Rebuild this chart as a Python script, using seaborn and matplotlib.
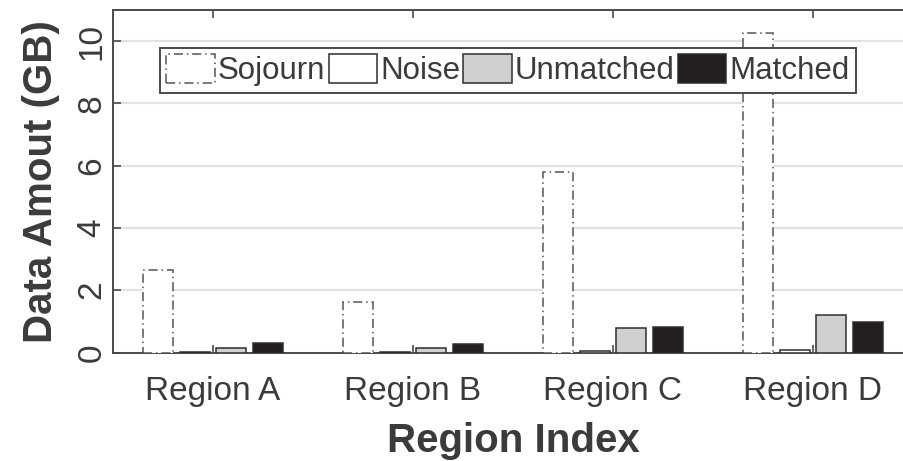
import matplotlib
matplotlib.use("Agg")
import matplotlib.pyplot as plt
import seaborn as sns
import pandas as pd

# Data amounts per region (GB)
regions = ["Region A", "Region B", "Region C", "Region D"]
categories = ["Sojourn", "Noise", "Unmatched", "Matched"]
sojourn = [2.65, 1.63, 5.80, 10.25]
noise = [0.02, 0.02, 0.05, 0.07]
unmatched = [0.16, 0.14, 0.79, 1.22]
matched = [0.32, 0.26, 0.82, 0.99]
yticks = [0, 2, 4, 6, 8, 10]

df = pd.DataFrame({
    "Region": regions * 4,
    "Category": [c for c in categories for _ in regions],
    "Amount": sojourn + noise + unmatched + matched,
})

sns.set_theme(style="white")
plt.rcParams["font.family"] = ["Liberation Sans", "DejaVu Sans"]

TEXT = "#3b3b3b"
EDGE = "#2e2e2e"
SPINE = "#4a4a4a"

fills = {"Sojourn": "#ffffff", "Noise": "#ffffff",
         "Unmatched": "#d0d0d1", "Matched": "#231f20"}
styles = {"Sojourn": (0, (6, 2.5, 1, 2.5)), "Noise": "-",
          "Unmatched": "-", "Matched": "-"}

fig = plt.figure(figsize=(9.04, 4.61), dpi=100)
ax = fig.add_axes([113 / 904, 1 - 352.5 / 461, 800 / 904, 342.5 / 461])

sns.barplot(data=df, x="Region", y="Amount", hue="Category",
            hue_order=categories, palette=fills, width=0.73, gap=0.18,
            edgecolor=EDGE, linewidth=1.1, errorbar=None, saturation=1,
            legend=False, ax=ax, zorder=3)

for cat, cont in zip(categories, ax.containers):
    for p in cont.patches:
        p.set_linestyle(styles[cat])
        p.set_edgecolor("#555555" if cat == "Sojourn" else EDGE)
    cont.set_label(cat)

ax.set_xlim(-0.5, 3.5)
ax.set_ylim(0, 11)
ax.set_yticks(yticks)
ax.set_yticklabels([str(v) for v in yticks])
ax.yaxis.grid(True, color="#e2e2e2", linewidth=1.6, zorder=0)
ax.xaxis.grid(False)
ax.set_axisbelow(True)

for side in ["left", "top", "bottom", "right"]:
    ax.spines[side].set_color(SPINE)
    ax.spines[side].set_linewidth(1.4)

ax.tick_params(axis="x", direction="in", length=6, width=1.2, color=SPINE,
               top=True, bottom=True, labelsize=24, labelcolor=TEXT, pad=17)
ax.tick_params(axis="y", direction="in", length=6, width=1.2, color=SPINE,
               left=True, right=False, labelsize=24, labelcolor=TEXT, pad=4,
               labelrotation=90)
for lab in ax.get_yticklabels():
    lab.set_va("center")

ax.set_xlabel("Region Index", fontsize=29, fontweight="bold", color=TEXT,
              labelpad=11)
ax.set_ylabel("Data Amout (GB)", fontsize=29, fontweight="bold", color=TEXT,
              labelpad=12)

leg = ax.legend(handles=ax.containers, labels=categories, ncol=4,
                loc="upper left", bbox_to_anchor=(0.059, 0.889),
                borderaxespad=0, fontsize=22.5, frameon=True, fancybox=False,
                framealpha=1, edgecolor=SPINE, handlelength=1.55,
                handleheight=1.05, handletextpad=0.1, columnspacing=0.1,
                borderpad=0.2, labelcolor=TEXT)
leg.get_frame().set_linewidth(1.4)
leg.set_zorder(5)

fig.savefig("out.png", dpi=100)
